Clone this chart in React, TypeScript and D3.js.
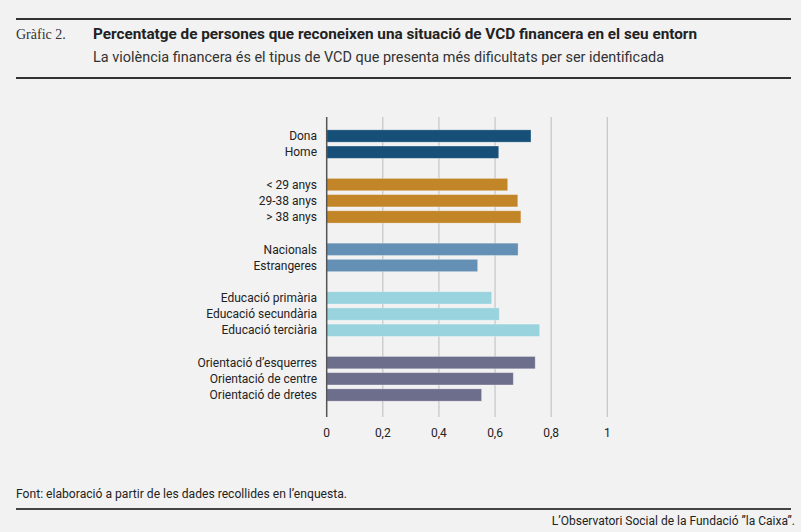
import React from "react";
import * as d3 from "d3";

const categories = [
  "Dona", "Home", "",
  "< 29 anys", "29-38 anys", "> 38 anys", " ",
  "Nacionals", "Estrangeres", "  ",
  "Educació primària", "Educació secundària", "Educació terciària", "   ",
  "Orientació d’esquerres", "Orientació de centre", "Orientació de dretes",
];
const values = [
  0.728, 0.613, null,
  0.645, 0.681, 0.692, null,
  0.682, 0.538, null,
  0.588, 0.615, 0.759, null,
  0.743, 0.665, 0.552,
];
const groups = [0, 0, -1, 1, 1, 1, -1, 2, 2, -1, 3, 3, 3, -1, 4, 4, 4];
const groupColors = ["#164f78", "#c28528", "#6590b5", "#99d3de", "#6d6e8c"];
const ticks = [0, 0.2, 0.4, 0.6, 0.8, 1];
const tickLabels = ["0", "0,2", "0,4", "0,6", "0,8", "1"];

const W = 801;
const H = 532;
const sans = "Roboto, 'Noto Sans', sans-serif";

export default function App() {
  const x = d3.scaleLinear().domain([0, 1]).range([326.7, 607.3]);
  const y = d3.scaleBand<string>().domain(categories).range([127.9, 403.1]).paddingInner(0.24).paddingOuter(0.12);
  return (
    <svg width={W} height={H} style={{ position: "absolute", left: 0, top: 0, display: "block" }}>
      <rect x={0} y={0} width={W} height={H} fill="#f2f2f2" />
      <line x1={16} x2={791} y1={19} y2={19} stroke="#333" strokeWidth={2} />
      <text x={16} y={39} fontFamily="'Liberation Serif', 'DejaVu Serif', serif" fontSize={14} fill="#333">Gràfic 2.</text>
      <text x={93} y={39} fontFamily={sans} fontWeight={700} fontSize={14.5} fill="#222" textLength={604} lengthAdjust="spacingAndGlyphs">
        Percentatge de persones que reconeixen una situació de VCD financera en el seu entorn
      </text>
      <text x={93} y={62} fontFamily={sans} fontSize={14} fill="#333" textLength={571} lengthAdjust="spacingAndGlyphs">
        La violència financera és el tipus de VCD que presenta més dificultats per ser identificada
      </text>
      <line x1={16} x2={791} y1={78} y2={78} stroke="#333" strokeWidth={2} />

      {ticks.map((t, i) => (
        <g key={i}>
          {i > 0 && <line x1={x(t)} x2={x(t)} y1={117} y2={417} stroke="#bdbdbd" strokeWidth={1} />}
          <text x={x(t)} y={437} textAnchor="middle" fontFamily={sans} fontSize={12} fill="#222">{tickLabels[i]}</text>
        </g>
      ))}

      {categories.map((c, i) => {
        const v = values[i];
        if (v == null) return null;
        const yy = y(c)!;
        return (
          <g key={i}>
            <rect x={x(0)} y={yy} width={x(v) - x(0)} height={y.bandwidth()} fill={groupColors[groups[i]]} stroke="#ffffff" strokeOpacity={0.35} strokeWidth={0.8} />
            <text x={317} y={yy + y.bandwidth() / 2} dy="0.35em" textAnchor="end" fontFamily={sans} fontSize={12} fill="#222">{c}</text>
          </g>
        );
      })}
      <line x1={x(0)} x2={x(0)} y1={117} y2={417} stroke="#555" strokeWidth={1.5} />

      <text x={16} y={498} fontFamily={sans} fontSize={12} fill="#222" textLength={331} lengthAdjust="spacingAndGlyphs">
        Font: elaboració a partir de les dades recollides en l’enquesta.
      </text>
      <line x1={16} x2={791} y1={509} y2={509} stroke="#444" strokeWidth={2} />
      <text x={795} y={525} textAnchor="end" fontFamily={sans} fontSize={12} fill="#222">
        L’Observatori Social de la Fundació ”la Caixa”.
      </text>
    </svg>
  );
}
